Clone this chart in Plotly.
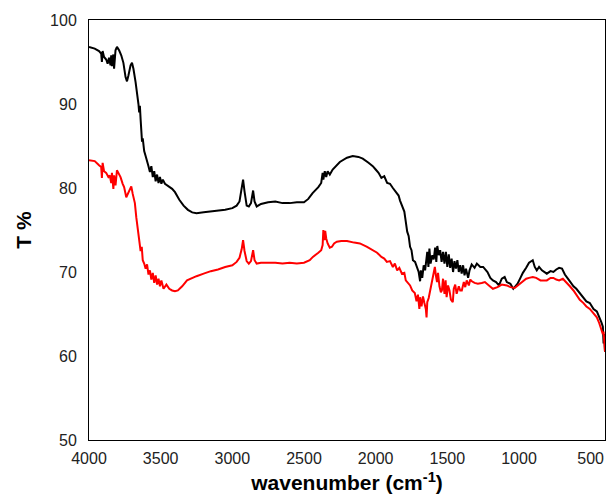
import plotly.graph_objects as go

# Sample 1 (black) : wavenumber (cm-1), transmittance (%)
black_wn = [4000,3960,3930,3915,3910,3905,3895,3880,3870,3860,3850,3845,3840,3830,3825,3815,3805,3790,3775,3760,
            3745,3735,3725,3710,3700,3690,3675,3665,3655,3650,3645,3640,3635,3630,3625,3615,3605,3595,3585,3575,
            3565,3555,3545,3535,3525,3515,3505,3495,3485,3470,3450,3420,3400,3370,3340,3310,3280,3250,3200,3150,
            3100,3050,3000,2970,2950,2935,2925,2915,2900,2885,2870,2855,2845,2830,2800,2750,2700,2650,2600,2550,
            2500,2470,2440,2400,2380,2370,2365,2355,2345,2335,2320,2300,2250,2200,2160,2120,2090,2050,2020,2000,
            1980,1960,1940,1920,1900,1880,1860,1840,1830,1815,1800,1790,1780,1770,1760,1750,1740,1725,1710,1700,
            1690,1685,1675,1665,1655,1648,1640,1632,1625,1617,1605,1595,1585,1577,1570,1560,1550,1540,1530,1520,
            1510,1500,1490,1480,1470,1460,1450,1440,1430,1420,1410,1400,1390,1380,1370,1355,1345,1330,1310,1294,
            1270,1250,1220,1200,1182,1160,1140,1120,1100,1085,1060,1040,1030,1010,990,973,950,930,904,890,
            876,860,840,820,806,780,760,740,720,700,680,650,620,600,576,550,530,506,480,457,
            440,425,415,410,405,400]
black_t = [96.8,96.6,96.3,96.0,95.0,96.3,95.6,95.3,94.8,95.5,94.6,95.8,94.5,95.9,94.2,96.4,96.8,96.4,95.8,94.9,
           93.2,92.7,93.4,94.6,94.9,94.2,92.6,91.5,90.0,89.0,89.8,88.2,87.0,85.5,85.9,84.4,83.8,83.0,82.6,81.9,
           82.6,81.3,82.0,80.8,81.6,80.6,81.3,80.5,81.0,80.5,80.3,79.9,79.5,78.6,77.9,77.4,77.1,77.0,77.1,77.2,
           77.3,77.4,77.6,77.9,78.4,79.8,81.0,79.6,77.9,77.8,78.2,79.7,78.4,77.8,78.1,78.3,78.4,78.2,78.2,78.3,
           78.3,78.7,79.4,80.1,80.6,81.8,81.0,82.0,81.3,82.0,81.6,82.2,83.1,83.6,83.8,83.7,83.5,83.0,82.6,82.2,
           81.8,81.2,81.4,80.6,80.5,80.0,79.6,79.1,78.5,77.8,77.2,76.0,74.8,74.3,73.0,72.6,71.4,71.2,70.5,70.0,
           68.9,70.2,69.3,70.8,70.2,71.2,72.4,70.6,72.8,71.0,72.0,71.5,72.9,71.2,73.1,72.0,72.6,71.2,72.4,71.0,
           72.4,70.6,72.1,70.5,71.6,70.0,71.3,70.4,71.4,70.0,70.8,69.8,70.8,69.6,70.4,69.3,70.2,70.9,70.5,71.0,
           70.6,70.6,70.0,69.3,69.0,68.8,68.4,69.2,69.4,68.8,68.6,68.0,68.2,68.6,69.3,69.9,70.5,71.1,71.4,70.6,
           70.2,70.6,70.2,69.9,69.8,70.1,70.0,70.3,70.5,70.4,69.7,69.0,68.3,68.0,67.5,67.0,66.5,66.3,65.6,65.3,
           64.7,64.0,63.5,61.5,62.6,60.5]

# Sample 2 (red)
red_wn = [4000,3960,3930,3915,3910,3905,3895,3880,3865,3855,3845,3840,3830,3825,3815,3805,3795,3780,3765,3755,
          3740,3728,3715,3705,3695,3680,3670,3660,3652,3645,3640,3632,3625,3615,3605,3595,3585,3575,3565,3555,
          3545,3535,3525,3515,3505,3495,3480,3460,3440,3420,3400,3380,3350,3316,3280,3250,3200,3150,3100,3050,
          3000,2970,2950,2935,2925,2915,2900,2885,2870,2855,2845,2830,2800,2750,2700,2650,2600,2550,2500,2460,
          2438,2400,2380,2370,2365,2358,2352,2345,2335,2320,2305,2290,2271,2240,2200,2150,2110,2060,2020,1990,
          1960,1940,1922,1900,1880,1866,1850,1835,1817,1800,1790,1775,1760,1745,1727,1715,1705,1695,1690,1680,
          1670,1660,1650,1645,1640,1630,1622,1610,1600,1595,1587,1580,1572,1565,1555,1545,1538,1530,1520,1512,
          1505,1495,1485,1475,1462,1455,1445,1435,1420,1410,1399,1385,1375,1365,1350,1340,1329,1310,1287,1260,
          1238,1210,1182,1150,1120,1085,1060,1030,1000,973,950,930,904,880,850,820,806,780,760,740,
          720,694,670,645,620,600,576,550,530,506,480,457,440,425,415,410,405,400]
red_t = [83.3,83.2,82.7,82.5,81.2,83.0,82.0,81.8,81.3,81.5,80.6,81.8,79.9,81.5,80.3,82.1,81.8,81.3,80.5,80.1,
         78.9,79.4,80.0,80.2,79.3,78.2,76.5,75.2,74.0,73.6,72.5,73.0,71.4,71.0,70.4,70.9,69.7,70.2,69.1,69.9,
         68.7,69.6,68.5,69.2,68.3,69.0,68.0,68.5,68.0,67.8,67.7,67.8,68.3,69.0,69.3,69.5,69.8,70.1,70.3,70.6,
         70.8,71.2,71.7,72.7,73.8,72.5,71.3,71.0,71.3,72.6,71.4,71.0,71.1,71.1,71.1,71.0,71.1,71.0,71.1,71.4,
         71.8,72.3,72.6,73.2,75.0,73.8,74.9,74.0,73.4,72.9,73.0,73.4,73.6,73.7,73.7,73.5,73.4,73.0,72.6,72.3,
         71.8,71.6,71.2,71.3,70.6,71.0,70.2,70.5,69.8,69.9,69.0,68.7,68.4,67.8,67.5,66.5,67.3,65.6,67.0,65.9,
         67.1,66.3,65.6,64.6,66.4,66.9,67.6,68.5,69.3,70.0,70.6,69.6,68.8,69.9,68.3,67.6,67.8,69.2,67.4,69.0,
         67.0,68.4,67.8,66.7,66.4,68.0,68.5,67.4,68.3,67.8,67.8,68.8,68.2,69.0,68.4,69.1,68.9,68.7,68.6,68.7,
         68.8,68.4,68.0,68.2,68.5,68.4,68.2,68.1,68.5,68.9,69.2,69.3,69.4,69.3,69.0,69.0,69.0,69.3,69.3,69.1,
         69.0,69.2,68.8,68.3,67.8,67.3,66.7,66.3,65.9,65.6,65.0,64.6,63.9,63.2,62.6,62.9,61.5,60.5]

x_ticks = [4000, 3500, 3000, 2500, 2000, 1500, 1000, 500]
y_ticks = [50, 60, 70, 80, 90, 100]

fig = go.Figure()
fig.add_trace(go.Scatter(x=black_wn, y=black_t, mode="lines", name="sample 1",
                         line=dict(color="black", width=2)))
fig.add_trace(go.Scatter(x=red_wn, y=red_t, mode="lines", name="sample 2",
                         line=dict(color="red", width=2)))

font_family = "Liberation Sans, Arial, sans-serif"
fig.update_layout(
    width=606, height=500,
    margin=dict(l=89, r=1, t=20, b=60),
    plot_bgcolor="white", paper_bgcolor="white",
    showlegend=False,
    font=dict(family=font_family, size=16, color="#222"),
)
fig.update_xaxes(
    range=[4000, 400], tickvals=x_ticks, ticktext=[str(v) for v in x_ticks],
    showgrid=False, zeroline=False, showline=True, mirror=True,
    linecolor="black", linewidth=1, ticks="", ticklabelstandoff=4,
    title=dict(text="<b>wavenumber (cm<sup>-1</sup>)</b>", font=dict(size=21, color="black"), standoff=9),
    automargin=False,
)
fig.update_yaxes(
    range=[50, 100], tickvals=y_ticks,
    showgrid=False, zeroline=False, showline=True, mirror=True,
    linecolor="black", linewidth=1, ticks="", ticklabelstandoff=8,
    title=dict(text="<b>T %</b>", font=dict(size=21, color="black"), standoff=12),
    automargin=False,
)
fig.write_html("out.html", config={"displayModeBar": False},
               post_script="document.body.style.margin='0';document.body.style.overflow='hidden';")
